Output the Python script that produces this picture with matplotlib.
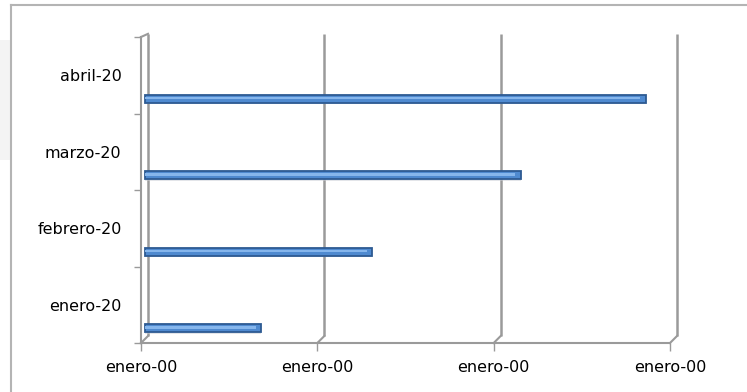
import matplotlib.pyplot as plt
import matplotlib.transforms as mtransforms
from matplotlib.patches import Rectangle
import numpy as np

meses = ['enero-20', 'febrero-20', 'marzo-20', 'abril-20']
valores = [6.6, 12.9, 21.3, 28.4]
x_ticks = [0, 10, 20, 30]
x_labels = ['enero-00', 'enero-00', 'enero-00', 'enero-00']

GRID = '#9A9A9A'
BAR = '#4F8AD0'
BAR_EDGE = '#2D5A92'
BAR_LIGHT = '#86B6EC'

fig = plt.figure(figsize=(7.47, 3.92), dpi=100)
W, H = 747.0, 392.0

# outer chart frame (top and left border only, rest is cut off)
fig.patches.append(Rectangle((0, 232 / H), 10 / W, 120 / H, transform=fig.transFigure,
                             facecolor='#F4F4F4', edgecolor='none', zorder=0))
fig.add_artist(plt.Line2D([11 / W, 11 / W], [0, 1 - 5 / H], transform=fig.transFigure,
                          color='#B4B4B4', lw=1.5))
fig.add_artist(plt.Line2D([11 / W, 1], [1 - 5 / H, 1 - 5 / H], transform=fig.transFigure,
                          color='#B4B4B4', lw=1.5))

# front plane of the plot area
ax = fig.add_axes([141 / W, 1 - 343 / H, (670 - 141) / W, (343 - 37) / H])
ax.set_xlim(x_ticks[0], x_ticks[-1])
ax.set_ylim(-0.5, len(meses) - 0.5)
ax.patch.set_alpha(0)

for s in ['top', 'right']:
    ax.spines[s].set_visible(False)
ax.spines['left'].set_color(GRID)
ax.spines['bottom'].set_color(GRID)
ax.spines['left'].set_linewidth(1.5)
ax.spines['bottom'].set_linewidth(1.5)

# back wall: gridlines shifted up/right for the depth effect
depth = mtransforms.ScaledTranslation(0.07, 0.07, fig.dpi_scale_trans)
back = ax.transData + depth
ybot, ytop = ax.get_ylim()
for v in x_ticks:
    ax.plot([v, v], [ybot, ytop - 0.05], color=GRID, lw=1.8, transform=back,
            clip_on=False, solid_capstyle='butt', zorder=1)
    # diagonal from the floor front edge to the back wall
    p0 = ax.transData.transform((v, ybot))
    p1 = back.transform((v, ybot))
    ax.plot([p0[0], p1[0]], [p0[1], p1[1]], color=GRID, lw=1.5,
            transform=None, clip_on=False, zorder=1)
p0 = ax.transData.transform((0, ytop))
p1 = back.transform((0, ytop - 0.05))
ax.plot([p0[0], p1[0]], [p0[1], p1[1]], color=GRID, lw=1.5,
        transform=None, clip_on=False, zorder=1)

# bars sit in the middle of the depth, low in each category band
mid = ax.transData + mtransforms.ScaledTranslation(0.04, 0.0, fig.dpi_scale_trans)
y = np.arange(len(meses)) - 0.307
ax.barh(y - 0.014, valores, height=0.11, left=0, color='#C8CCD4', alpha=0.5,
        transform=mid, zorder=2)
ax.barh(y, valores, height=0.105, color=BAR, edgecolor=BAR_EDGE, linewidth=1.3,
        transform=mid, zorder=3)
ax.barh(y + 0.01, np.array(valores) - 0.3, height=0.028, color=BAR_LIGHT,
        transform=mid, zorder=4)

# ticks: marks on band boundaries, labels on band centers
ax.set_yticks(np.arange(len(meses)))
ax.set_yticklabels(meses)
ax.set_yticks(np.arange(len(meses) + 1) - 0.5, minor=True)
ax.tick_params(axis='y', which='major', length=0, pad=14, labelsize=11.5)
ax.tick_params(axis='y', which='minor', length=5, color=GRID, width=1)
ax.set_xticks(x_ticks)
ax.set_xticklabels(x_labels)
ax.tick_params(axis='x', which='major', length=6, color=GRID, width=1, pad=6,
               labelsize=11.5)

fig.savefig('out.png', dpi=100)
